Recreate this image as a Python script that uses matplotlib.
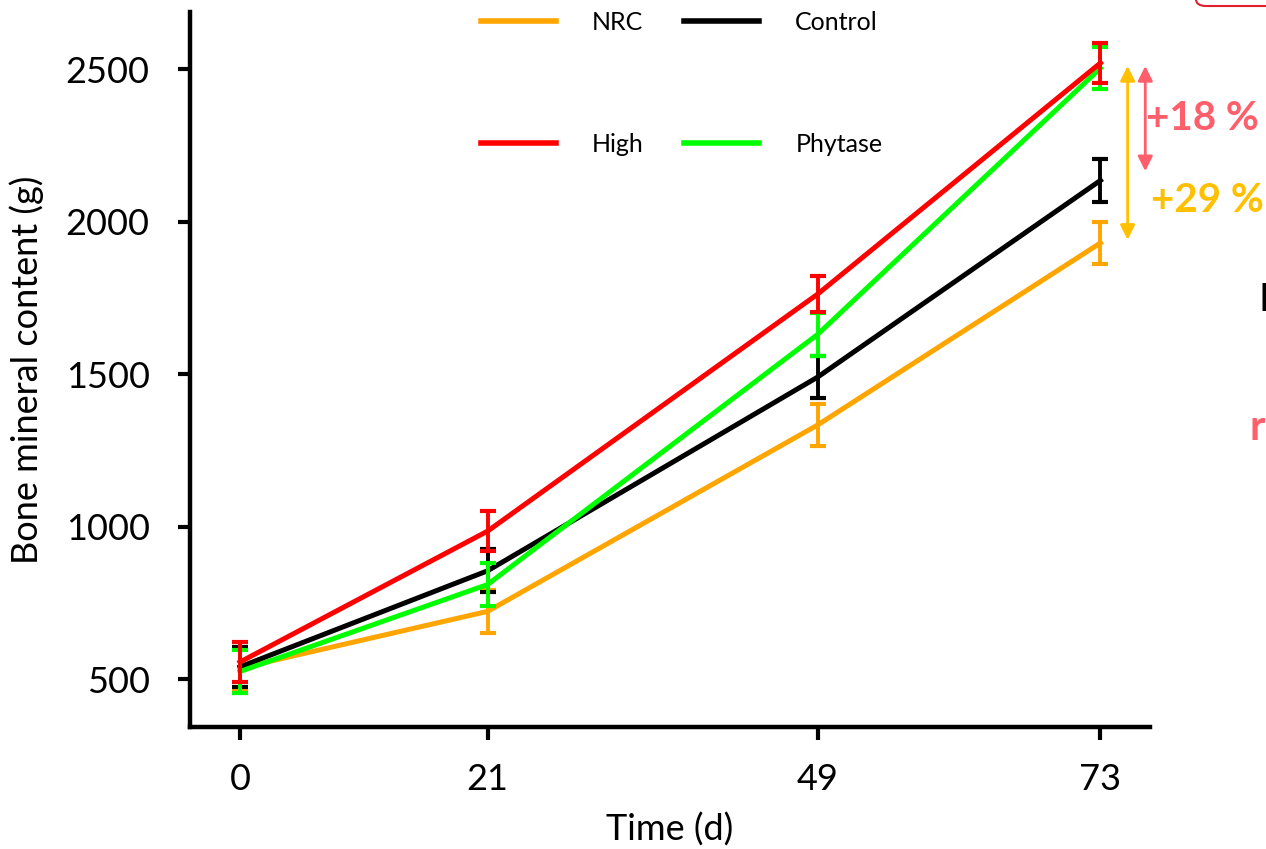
import matplotlib
matplotlib.use('Agg')
import matplotlib.pyplot as plt
from matplotlib.patches import FancyBboxPatch
from matplotlib.lines import Line2D

plt.rcParams['font.family'] = ['Lato', 'DejaVu Sans']

days = [0, 21, 49, 73]

nrc = [536, 722, 1333, 1930]
nrc_err = [70, 70, 70, 70]
control = [540, 855, 1490, 2135]
control_err = [65, 70, 70, 70]
high = [556, 985, 1762, 2520]
high_err = [65, 65, 60, 65]
phytase = [525, 810, 1630, 2503]
phytase_err = [70, 70, 70, 70]

series = [
    ('NRC', nrc, nrc_err, '#FFA500'),
    ('High', high, high_err, '#FF0000'),
    ('Control', control, control_err, '#000000'),
    ('Phytase', phytase, phytase_err, '#00FF00'),
]
draw_order = ['NRC', 'Control', 'Phytase', 'High']

fig = plt.figure(figsize=(12.66, 8.49), dpi=100)
ax = fig.add_axes([190 / 1266, 1 - 727 / 849, 960 / 1266, 715 / 849])

cols = {}
for name, vals, errs, col in series:
    z = 3 + draw_order.index(name)
    ax.errorbar(days, vals, yerr=errs, color=col, lw=3.6, elinewidth=2.8,
                capsize=5.5, capthick=3, zorder=z, clip_on=False)
    cols[name] = col

ax.set_xlim(-4.24, 77.2)
ax.set_ylim(343, 2687)
ax.set_xticks(days)
ax.set_yticks([500, 1000, 1500, 2000, 2500])

for s in ['top', 'right']:
    ax.spines[s].set_visible(False)
for s in ['left', 'bottom']:
    ax.spines[s].set_linewidth(3.2)
ax.tick_params(axis='both', which='major', direction='out', length=9, width=3,
               labelsize=26)
ax.tick_params(axis='x', pad=17)
ax.tick_params(axis='y', pad=20)

ax.set_xlabel('Time (d)', fontsize=26, labelpad=12)
ax.set_ylabel('Bone mineral content (g)', fontsize=26, labelpad=16)

names = ['NRC', 'High', 'Control', 'Phytase']
leg_handles = [Line2D([], [], color=cols[n], lw=4) for n in names]
fig.legend(leg_handles, names, ncol=2,
           loc='upper left', bbox_to_anchor=(481 / 1266, 1 - 11 / 849),
           frameon=False, fontsize=18, handlelength=3.0, handletextpad=1.45,
           columnspacing=1.6, labelspacing=3.95, borderpad=0, borderaxespad=0)

# difference arrows at day 73
red_c = '#FF5F6B'
ora_c = '#FFC000'
top = high[-1] - 10
ax.annotate('', xy=(76.8, control[-1] + 30), xytext=(76.8, top),
            arrowprops=dict(arrowstyle='<|-|>', color=red_c, lw=2,
                            mutation_scale=22, shrinkA=0, shrinkB=0),
            annotation_clip=False)
ax.annotate('', xy=(75.3, nrc[-1] + 10), xytext=(75.3, top),
            arrowprops=dict(arrowstyle='<|-|>', color=ora_c, lw=2,
                            mutation_scale=22, shrinkA=0, shrinkB=0),
            annotation_clip=False)

fig.text(1146 / 1266, 1 - 118 / 849, '+18 %', color=red_c, fontsize=29,
         fontweight='bold', va='center', ha='left')
fig.text(1151 / 1266, 1 - 200 / 849, '+29 %', color=ora_c, fontsize=29,
         fontweight='bold', va='center', ha='left')
fig.text(1259 / 1266, 1 - 300 / 849, 'L', color='black', fontsize=28,
         va='center', ha='left')
fig.text(1250 / 1266, 1 - 428 / 849, 'r', color=red_c, fontsize=30,
         fontweight='bold', va='center', ha='left')

box = FancyBboxPatch((1196 / 1266, 1 - 6 / 849), 0.2, 0.05,
                     boxstyle='round,pad=0,rounding_size=0.008',
                     transform=fig.transFigure, fill=False,
                     edgecolor='#E0202A', lw=1.5)
fig.patches.append(box)

fig.savefig('out.png', dpi=100)
